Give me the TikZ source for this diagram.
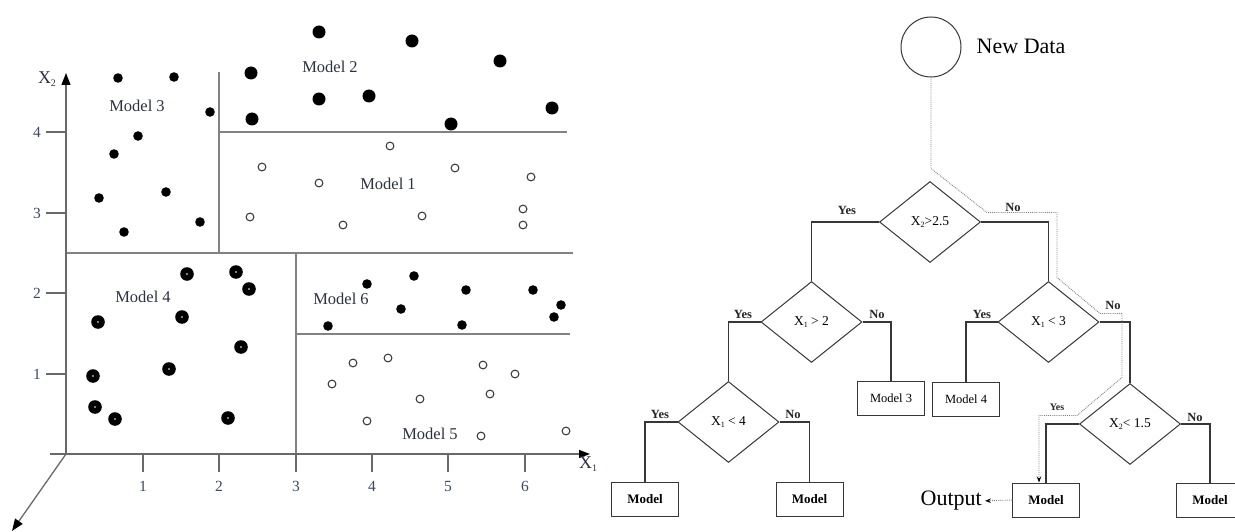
\documentclass[tikz,border=0pt]{standalone}
\usepackage{fontspec}
\setmainfont{Liberation Serif}
\usetikzlibrary{shapes.geometric,arrows.meta,calc}
\definecolor{axisgray}{RGB}{105,105,105}
\definecolor{gridgray}{RGB}{130,130,130}
\definecolor{labelink}{RGB}{45,50,65}
\definecolor{tickink}{RGB}{60,72,98}
\definecolor{treeink}{RGB}{55,55,55}
\definecolor{pathgray}{RGB}{130,130,130}
\newcommand\smallsub[2]{\raisebox{-0.3ex}{\fontsize{#1}{#1}\selectfont #2}}
\begin{document}
\begin{tikzpicture}[x=1pt,y=-1pt,
  axisline/.style={draw=axisgray,line width=1.3pt},
  gridline/.style={draw=gridgray,line width=1.3pt},
  ticklabel/.style={text=tickink,font=\fontsize{15.5}{15.5}\selectfont,inner sep=0pt},
  regionlabel/.style={text=labelink,font=\fontsize{16.5}{16.5}\selectfont,inner sep=0pt},
  treeline/.style={draw=treeink,line width=1.1pt},
  decision/.style={diamond,draw=treeink,line width=1pt,minimum width=101pt,minimum height=81pt,inner sep=0pt,font=\fontsize{13.5}{13.5}\selectfont},
  modelbox/.style={rectangle,draw=treeink,line width=1pt,minimum width=67pt,minimum height=34pt,inner sep=0pt},
  boldmodel/.style={modelbox,font=\bfseries\fontsize{13}{13}\selectfont},
  plainmodel/.style={modelbox,font=\fontsize{12.5}{12.5}\selectfont},
  branchlabel/.style={font=\bfseries\fontsize{12.5}{12.5}\selectfont,text=black!85,inner sep=0pt},
  highlight/.style={draw=pathgray,line width=0.9pt,densely dotted},
  bigtip/.style={-{Triangle[length=12pt,width=9pt,color=black]}},
  smalltip/.style={-{Stealth[length=6pt,width=4.5pt,color=black]}}
]
\useasboundingbox (0,0) rectangle (1235,532);

% ---------------- scatter plot ----------------
% partition lines
\draw[gridline] (219,72) -- (219,253);
\draw[gridline] (219,132) -- (567,132);
\draw[gridline] (66,253) -- (573,253);
\draw[gridline] (296,253) -- (296,454);
\draw[gridline] (296,334) -- (570,334);

% axes
\draw[axisline,bigtip] (66,454) -- (66,73);
\draw[axisline,-{Triangle[length=11pt,width=8pt,color=black]}] (50,454) -- (590,454);
\draw[axisline,bigtip] (66,454) -- (12,531);

% ticks
\foreach \xx/\lab in {143/1,219/2,296/3,372/4,448/5,525/6}{
  \draw[axisline] (\xx,454) -- (\xx,472);
  \node[ticklabel] at (\xx,486) {\lab};
}
\foreach \yy/\lab in {132/4,213/3,293/2,374/1}{
  \draw[axisline] (46,\yy) -- (66,\yy);
  \node[ticklabel] at (37,\yy) {\lab};
}
\node[text=labelink,font=\fontsize{18}{18}\selectfont,inner sep=0pt] (xtwo) at (47,79) {X\smallsub{10}{2}};
\node[text=labelink,font=\fontsize{18}{18}\selectfont,inner sep=0pt] (xone) at (588,464) {X\smallsub{10}{1}};

% points
\foreach \px/\py in {251/73,252/119,319/32,412/41,500/61,319/99,369/96,451/124,552/108}
  \fill[black] (\px,\py) circle (6.5);
\foreach \px/\py in {118/78,174/77,210/112,138/136,114/154,99/198,166/192,200/222,124/232,
                     367/284,414/276,466/290,533/290,561/305,554/317,401/309,328/326,462/325}
  \fill[black] (\px,\py) circle (4.8);
\foreach \px/\py in {262/167,250/217,319/183,343/225,390/146,422/216,455/168,531/177,523/209,523/225,
                     353/363,388/358,332/384,483/365,515/374,490/394,420/399,367/421,481/436,566/431}
  \draw[black!75,line width=1.1pt,fill=white] (\px,\py) circle (3.9);
\foreach \px/\py in {187/274,236/272,249/289,98/322,182/317,241/347,169/369,93/376,95/407,115/419,228/418}{
  \fill[black] (\px,\py) circle (6.8);
  \fill[white] (\px,\py) circle (0.9);
}

% region labels
\node[regionlabel] (lab3) at (137,106) {Model 3};
\node[regionlabel] (lab2) at (330,67) {Model 2};
\node[regionlabel] (lab1) at (388,184) {Model 1};
\node[regionlabel] (lab4) at (143,297) {Model 4};
\node[regionlabel] (lab6) at (341,299) {Model 6};
\node[regionlabel] (lab5) at (430,434) {Model 5};

% ---------------- decision tree ----------------
\node[circle,draw=treeink,line width=1pt,minimum size=60pt,inner sep=0pt] (nd) at (931,47) {};
\node[font=\fontsize{22}{22}\selectfont,inner sep=0pt] (ndlabel) at (1021,46) {New Data};

\node[decision] (d1) at (930,222) {X\smallsub{8}{2}>2.5};
\node[decision] (d2) at (811.5,322) {X\smallsub{8}{1} > 2};
\node[decision] (d3) at (1048.5,322) {X\smallsub{8}{1} < 3};
\node[decision] (d4) at (728.5,422) {X\smallsub{8}{1} < 4};
\node[decision] (d5) at (1130,424) {X\smallsub{8}{2}< 1.5};

\node[plainmodel] (m3) at (891,398.5) {Model 3};
\node[plainmodel] (m4) at (966,399) {Model 4};
\node[boldmodel] (mll) at (645,499) {Model};
\node[boldmodel] (mlr) at (809.5,499) {Model};
\node[boldmodel] (ma) at (1046,500) {Model};
\node[boldmodel] (mb) at (1210,500) {Model};

\draw[treeline] (d1.west) -| (d2.north);
\draw[treeline] (d1.east) -| (d3.north);
\draw[treeline] (d2.west) -| (d4.north);
\draw[treeline] (d2.east) -| (m3.north);
\draw[treeline] (d4.west) -| (mll.north);
\draw[treeline] (d4.east) -| (mlr.north);
\draw[treeline] (d3.west) -| (m4.north);
\draw[treeline] (d3.east) -| (d5.north);
\draw[treeline] (d5.west) -| (ma.north);
\draw[treeline] (d5.east) -| (mb.north);

\node[branchlabel] (y1) at (847,210) {Yes};
\node[branchlabel] (n1) at (1013,207) {No};
\node[branchlabel] (y2) at (743,314) {Yes};
\node[branchlabel] (n2) at (877,314) {No};
\node[branchlabel] (y4) at (660,414) {Yes};
\node[branchlabel] (n4) at (793,414) {No};
\node[branchlabel] (y3) at (982,314) {Yes};
\node[branchlabel] (n3) at (1113,305) {No};
\node[branchlabel,font=\bfseries\fontsize{10}{10}\selectfont] (y5) at (1057,407) {Yes};
\node[branchlabel] (n5) at (1195,417) {No};

% highlighted decision path
\draw[highlight,smalltip] (nd.south) -- ++(0,91) -- ++(56,44) -- ++(70,0) -- ++(0,65)
  -- ++(43,36) -- ++(22,0) -- ++(0,64) -- ++(-45,38) -- ++(-38,0) -- ($(ma.north)+(-7,0)$);

\node[font=\fontsize{22}{22}\selectfont,anchor=east,inner sep=0pt] (out) at (982,501) {Output};
\draw[highlight,smalltip,shorten >=3pt] (ma.west) -- (out.east);
\end{tikzpicture}
\end{document}
